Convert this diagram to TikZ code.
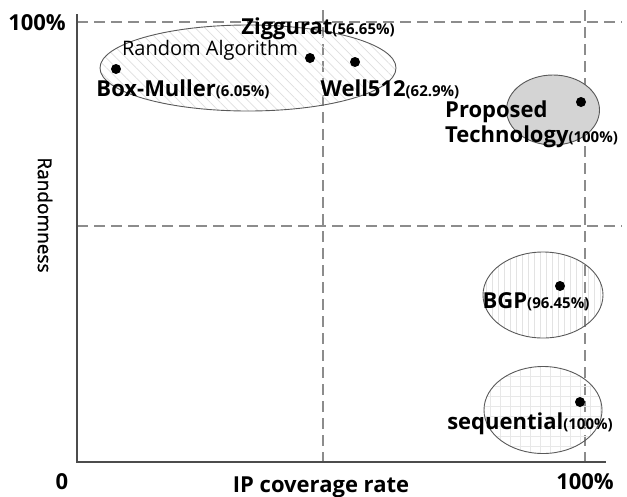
\documentclass[tikz,border=0pt]{standalone}
\usepackage{fontspec}
\setmainfont{Open Sans}
\newfontfamily\semifont[FakeBold=1.2]{Open Sans}
\usetikzlibrary{shapes.geometric,patterns.meta}

\tikzstyle{axis} = [draw=black!70, line width=2.6pt]
\tikzstyle{guide} = [draw=black!45, line width=1.3pt, dash pattern=on 11pt off 6pt]
\tikzstyle{group} = [ellipse, draw=black!65, line width=0.9pt, inner sep=0pt]
\tikzstyle{marker} = [circle, fill=black, inner sep=0pt, minimum size=10pt]
\tikzstyle{big} = [font=\fontsize{22}{25}\selectfont\bfseries, inner sep=0pt]
\tikzstyle{plain} = [font=\fontsize{20}{23}\selectfont, inner sep=0pt]
\newcommand{\pct}[1]{{\fontsize{15}{17}\selectfont\bfseries(#1)}}

\begin{document}
\begin{tikzpicture}[x=1pt, y=-1pt]
    \useasboundingbox (0,0) rectangle (627,496);

    % axes and guide lines
    \coordinate (origin) at (77,462);
    \coordinate (ytop) at (77,14);
    \coordinate (xend) at (606,462);
    \coordinate (top l) at (77,22);
    \coordinate (top r) at (622,22);
    \coordinate (mid l) at (77,226);
    \coordinate (mid r) at (622,226);
    \coordinate (half t) at (323,10);
    \coordinate (half b) at (323,462);
    \coordinate (full t) at (585,10);
    \coordinate (full b) at (585,462);
    \draw[guide] (top l) -- (top r);
    \draw[guide] (mid l) -- (mid r);
    \draw[guide] (half t) -- (half b);
    \draw[guide] (full t) -- (full b);
    \draw[axis] (ytop) -- (origin) -- (xend);

    % groups
    \node[group, pattern={Lines[angle=-45, distance=7pt, line width=0.7pt]}, pattern color=black!13, minimum width=296pt, minimum height=86pt] (random) at (248,68) {};
    \node[group, fill=black!17, minimum width=93pt, minimum height=70pt] (proposed) at (553,110) {};
    \node[group, pattern={Lines[angle=90, distance=6pt, line width=0.6pt]}, pattern color=black!11, minimum width=120pt, minimum height=86pt] (bgp) at (543,295) {};
    \node[group, pattern={Hatch[angle=0, distance=10pt, line width=0.5pt]}, pattern color=black!9, minimum width=118pt, minimum height=87pt] (seq) at (543,410) {};

    % points
    \node[marker] (boxmuller) at (116,69) {};
    \node[marker] (ziggurat) at (310,58) {};
    \node[marker] (well) at (355,62) {};
    \node[marker] (prop pt) at (581,102) {};
    \node[marker] (bgp pt) at (560,286) {};
    \node[marker] (seq pt) at (580,402) {};

    % labels
    \node[plain] (alg) at (210,50) {Random Algorithm};
    \node[big] (boxmuller lbl) at (183,89) {Box-Muller\pct{6.05\%}};
    \node[big] (ziggurat lbl) at (318,29) {Ziggurat\pct{56.65\%}};
    \node[big] (well lbl) at (390,89) {Well512\pct{62.9\%}};
    \node[big, anchor=west] (prop lbl1) at (445,112) {Proposed};
    \node[big, anchor=west] (prop lbl2) at (445,137) {Technology\pct{100\%}};
    \node[big] (bgp lbl) at (536,302) {BGP\pct{96.45\%}};
    \node[big] (seq lbl) at (530,424) {sequential\pct{100\%}};

    % axis labels
    \node[big] (y100) at (37,23) {100\%};
    \node[big] (zero) at (62,482) {0};
    \node[big] (x100) at (585,482) {100\%};
    \node[big] (xlabel) at (321,487) {IP coverage rate};
    \node[plain, font=\fontsize{19}{22}\semifont, rotate=-90] (ylabel) at (45,215) {Randomness};
\end{tikzpicture}
\end{document}
